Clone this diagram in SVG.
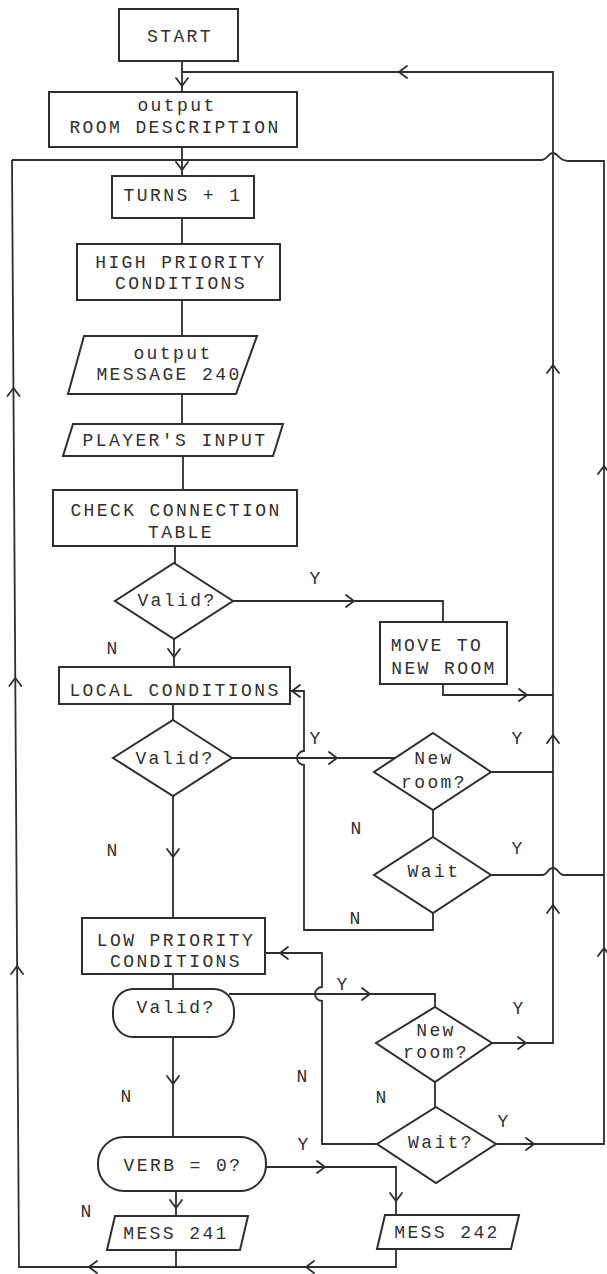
<svg xmlns="http://www.w3.org/2000/svg" xmlns:xlink="http://www.w3.org/1999/xlink" width="607" height="1274" viewBox="0 0 607 1274">
<style>
.box{fill:none;stroke:#2e2e2e;stroke-width:2}
.ln{fill:none;stroke:#2e2e2e;stroke-width:1.8;stroke-linejoin:miter}
.ah{fill:none;stroke:#2e2e2e;stroke-width:1.8;stroke-linecap:round;stroke-linejoin:miter}
text{font-family:"Liberation Mono","DejaVu Sans Mono",monospace;font-size:18px;letter-spacing:2.4px;fill:#303030;text-anchor:middle}
.lbl{font-size:18px;letter-spacing:0}
</style>
<defs>
<path id="ah" class="ah" d="M-8,-6 L0,0 L-8,6"/>
</defs>
<rect width="607" height="1274" fill="#ffffff"/>

<g id="connectors">
<!-- main spine -->
<path class="ln" d="M182,61 V92"/>
<path class="ln" d="M182,147 V176"/>
<path class="ln" d="M182,218 V244"/>
<path class="ln" d="M182,300 V336"/>
<path class="ln" d="M182,394 V424"/>
<path class="ln" d="M183,456 V490"/>
<path class="ln" d="M175,546 V563"/>
<path class="ln" d="M174,639 V667"/>
<path class="ln" d="M173,704 V720"/>
<path class="ln" d="M173,796 V918"/>
<path class="ln" d="M173,974 V989"/>
<path class="ln" d="M173,1037 V1137"/>
<path class="ln" d="M176,1191 V1216"/>
<!-- top return -->
<path class="ln" d="M182,72 H553 V1043 H492"/>
<!-- y=161 return line -->
<path class="ln" d="M12,160 H542 C547,160 548,153 553,153 C558,153 559,161 568,161 H604 V1144 H496"/>
<!-- left return -->
<path class="ln" d="M12,160 L19,1267 H396 V1249"/>
<path class="ln" d="M176,1250 V1267"/>
<!-- valid 1 yes -->
<path class="ln" d="M233,601 H443 V622"/>
<path class="ln" d="M443,684 V695 H553"/>
<!-- valid 2 yes -->
<path class="ln" d="M232,758 H396"/>
<path class="ln" d="M491,772 H553"/>
<path class="ln" d="M433,810 V837"/>
<path class="ln" d="M491,875 H543 C547,875 548,868 553,868 C558,868 559,875 563,875 H604"/>
<path class="ln" d="M291,691 H304 V751 A7,7 0 0 0 304,765 V930 H433 V913"/>
<!-- low priority -->
<path class="ln" d="M265,953 H322 V987 A7,7 0 0 0 322,1001 V1144 H377"/>
<path class="ln" d="M229,994 H435 V1007"/>
<path class="ln" d="M435,1082 V1107"/>
<path class="ln" d="M266,1167 H396 V1215"/>
<!-- arrowheads -->
<use xlink:href="#ah" transform="translate(182,86) rotate(90)"/>
<use xlink:href="#ah" transform="translate(399,72) rotate(180)"/>
<use xlink:href="#ah" transform="translate(182,170) rotate(90)"/>
<use xlink:href="#ah" transform="translate(13.5,388) rotate(-90)"/>
<use xlink:href="#ah" transform="translate(15.3,678) rotate(-90)"/>
<use xlink:href="#ah" transform="translate(17.1,966) rotate(-90)"/>
<use xlink:href="#ah" transform="translate(553,365) rotate(-90)"/>
<use xlink:href="#ah" transform="translate(553,735) rotate(-90)"/>
<use xlink:href="#ah" transform="translate(553,905) rotate(-90)"/>
<use xlink:href="#ah" transform="translate(604,466) rotate(-90)"/>
<use xlink:href="#ah" transform="translate(604,948) rotate(-90)"/>
<use xlink:href="#ah" transform="translate(354,601)"/>
<use xlink:href="#ah" transform="translate(174,657) rotate(90)"/>
<use xlink:href="#ah" transform="translate(527,695)"/>
<use xlink:href="#ah" transform="translate(292,691) rotate(180)"/>
<use xlink:href="#ah" transform="translate(337,758)"/>
<use xlink:href="#ah" transform="translate(173,857) rotate(90)"/>
<use xlink:href="#ah" transform="translate(280,953) rotate(180)"/>
<use xlink:href="#ah" transform="translate(370,994)"/>
<use xlink:href="#ah" transform="translate(526,1043)"/>
<use xlink:href="#ah" transform="translate(534,1144)"/>
<use xlink:href="#ah" transform="translate(173,1084) rotate(90)"/>
<use xlink:href="#ah" transform="translate(325,1167)"/>
<use xlink:href="#ah" transform="translate(396,1201) rotate(90)"/>
<use xlink:href="#ah" transform="translate(176,1208) rotate(90)"/>
<use xlink:href="#ah" transform="translate(89,1267) rotate(180)"/>
<use xlink:href="#ah" transform="translate(306,1267) rotate(180)"/>
<!-- labels -->
<text class="lbl" x="315" y="584">Y</text>
<text class="lbl" x="112" y="654">N</text>
<text class="lbl" x="315" y="744">Y</text>
<text class="lbl" x="517" y="744">Y</text>
<text class="lbl" x="356" y="834">N</text>
<text class="lbl" x="517" y="854">Y</text>
<text class="lbl" x="112" y="856">N</text>
<text class="lbl" x="355" y="924">N</text>
<text class="lbl" x="342" y="990">Y</text>
<text class="lbl" x="518" y="1014">Y</text>
<text class="lbl" x="302" y="1082">N</text>
<text class="lbl" x="126" y="1102">N</text>
<text class="lbl" x="381" y="1103">N</text>
<text class="lbl" x="503" y="1127">Y</text>
<text class="lbl" x="303" y="1150">Y</text>
<text class="lbl" x="86" y="1217">N</text>
</g>

<g id="start"><rect class="box" x="119" y="9" width="119" height="52"/><text x="180" y="42">START</text></g>
<g id="room-description"><rect class="box" x="49" y="92" width="248" height="55"/><text x="177" y="111">output</text><text x="175" y="133">ROOM DESCRIPTION</text></g>
<g id="turns"><rect class="box" x="112" y="176" width="142" height="42"/><text x="183" y="201">TURNS + 1</text></g>
<g id="high-priority"><rect class="box" x="77" y="244" width="203" height="56"/><text x="181" y="268">HIGH PRIORITY</text><text x="181" y="289">CONDITIONS</text></g>
<g id="message-240"><polygon class="box" points="84,336 257,336 236,394 68,394"/><text x="173" y="359">output</text><text x="169" y="380">MESSAGE 240</text></g>
<g id="players-input"><polygon class="box" points="73,424 283,424 273,456 63,456"/><text x="175" y="446">PLAYER'S INPUT</text></g>
<g id="check-connection"><rect class="box" x="53" y="490" width="244" height="56"/><text x="176" y="516">CHECK CONNECTION</text><text x="181" y="538">TABLE</text></g>
<g id="valid-1"><polygon class="box" points="174,563 233,601 174,639 115,601"/><text x="177" y="606">Valid?</text></g>
<g id="move-to-new-room"><rect class="box" x="380" y="622" width="127" height="62"/><text x="437" y="651">MOVE TO</text><text x="444" y="674">NEW ROOM</text></g>
<g id="local-conditions"><rect class="box" x="59" y="667" width="231" height="37"/><text x="175" y="696">LOCAL CONDITIONS</text></g>
<g id="valid-2"><polygon class="box" points="173,720 232,758 173,796 113,758"/><text x="175" y="764">Valid?</text></g>
<g id="new-room-1"><polygon class="box" points="433,733 491,772 433,810 374,772"/><text x="434" y="764">New</text><text x="434" y="788">room?</text></g>
<g id="wait-1"><polygon class="box" points="433,837 491,875 433,913 374,875"/><text x="434" y="877">Wait</text></g>
<g id="low-priority"><rect class="box" x="82" y="918" width="183" height="56"/><text x="176" y="946">LOW PRIORITY</text><text x="176" y="967">CONDITIONS</text></g>
<g id="valid-3"><rect class="box" x="113" y="989" width="121" height="48" rx="20" ry="22"/><text x="176" y="1013">Valid?</text></g>
<g id="new-room-2"><polygon class="box" points="435,1007 492,1043 435,1082 376,1043"/><text x="436" y="1036">New</text><text x="436" y="1058">room?</text></g>
<g id="wait-2"><polygon class="box" points="436,1107 496,1144 436,1183 377,1144"/><text x="441" y="1148">Wait?</text></g>
<g id="verb-0"><rect class="box" x="98" y="1137" width="168" height="54" rx="26" ry="26"/><text x="183" y="1171">VERB = 0?</text></g>
<g id="mess-241"><polygon class="box" points="115,1216 248,1216 240,1250 107,1250"/><text x="176" y="1239">MESS 241</text></g>
<g id="mess-242"><polygon class="box" points="385,1215 519,1215 511,1249 377,1249"/><text x="447" y="1238">MESS 242</text></g>
</svg>
